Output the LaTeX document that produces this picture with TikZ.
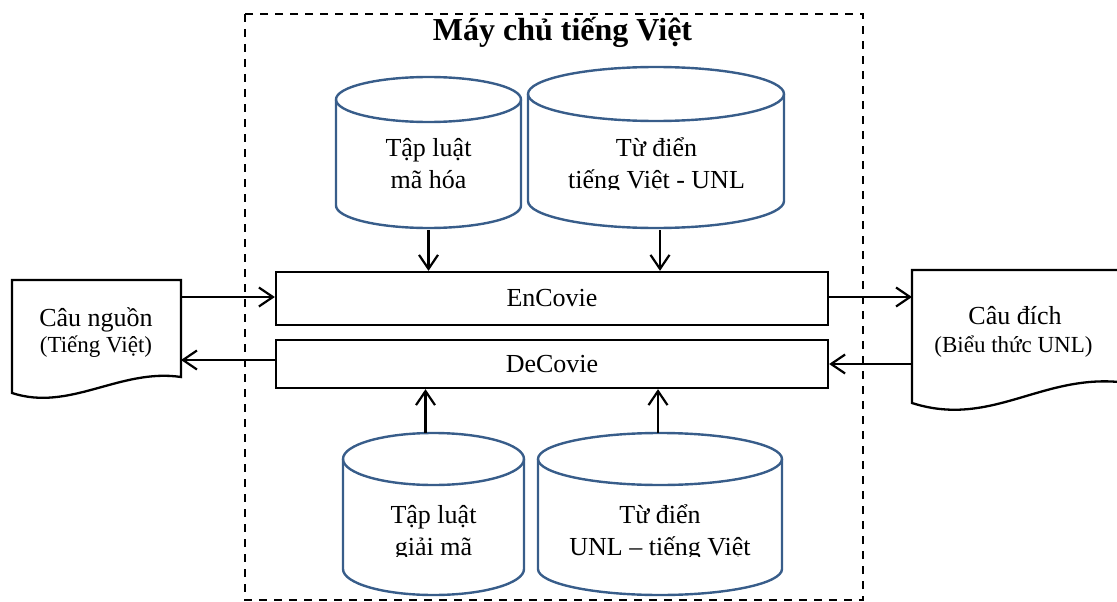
\documentclass[tikz,border=0pt]{standalone}
\usepackage{fontspec}
\setmainfont{Liberation Serif}
\usetikzlibrary{arrows.meta}
\definecolor{cylblue}{RGB}{56,93,138}

% cylinder outline: left, top, right, bottom, radius of the end ellipses
\newcommand\cylshape[5]{%
  \draw[cyl] ({(#1+#3)/2},{#2+#5}) ellipse [x radius={(#3-#1)/2}, y radius=#5];
  \draw[cyl] (#1,{#2+#5}) -- (#1,{#4-#5})
    arc[start angle=180, end angle=0, x radius={(#3-#1)/2}, y radius=#5]
    -- (#3,{#2+#5});}

\begin{document}
\begin{tikzpicture}[x=1pt, y=-1pt,
  cyl/.style={draw=cylblue, line width=2.4pt},
  cylnode/.style={inner sep=0, outer sep=0, draw=none},
  procbox/.style={draw, line width=2.3pt, inner sep=0, minimum width=552pt,
    font=\fontsize{26}{30}\selectfont},
  doc/.style={draw, line width=2.3pt, line join=miter},
  arr/.style={line width=2.2pt, -{Straight Barb[length=14pt, width=19pt, line width=2.2pt]}},
  cyltext/.style={anchor=base, align=center, inner sep=0, font=\fontsize{26}{31.5}\selectfont},
  docmain/.style={anchor=base, inner sep=0, font=\fontsize{26}{30}\selectfont},
  docsub/.style={anchor=base, inner sep=0, font=\fontsize{23}{27}\selectfont}]
\useasboundingbox (0,0) rectangle (1117,602);

% server frame and its title
\draw[line width=2.4pt, dash pattern=on 8pt off 7pt] (245,14) rectangle (863,600);
\node[anchor=base, inner sep=0, font=\fontsize{32}{36}\selectfont\bfseries] (title) at (562.5,41) {Máy chủ tiếng Việt};

% processing modules
\node[procbox, minimum height=53pt] (enc) at (552,298.5) {EnCovie};
\node[procbox, minimum height=48pt] (dec) at (552,364) {DeCovie};

% rule sets and dictionaries
\node[cylnode, minimum width=185pt, minimum height=151pt] (rulesEnc) at (428.5,152.5) {};
\node[cylnode, minimum width=256pt, minimum height=161pt] (dictEnc) at (656,147.5) {};
\node[cylnode, minimum width=181pt, minimum height=162pt] (rulesDec) at (433.5,514) {};
\node[cylnode, minimum width=244pt, minimum height=162pt] (dictDec) at (660,514) {};

\cylshape{336}{77}{521}{228}{22.5}
\cylshape{528}{67}{784}{228}{27}
\cylshape{343}{433}{524}{595}{26}
\cylshape{538}{433}{782}{595}{26}

% labels, cut off at the bottom of their text areas
\begin{scope}
  \clip (330,60) rectangle (790,189);
  \node[cyltext] (rulesEncT) at (428.5,188) {Tập luật\\mã hóa};
  \node[cyltext] (dictEncT) at (656.5,188) {Từ điển\\tiếng Việt - UNL};
\end{scope}
\begin{scope}
  \clip (330,430) rectangle (790,556);
  \node[cyltext] (rulesDecT) at (433.5,555) {Tập luật\\giải mã};
  \node[cyltext] (dictDecT) at (660,555) {Từ điển\\UNL – tiếng Việt};
\end{scope}

% source and target sentences
\node[cylnode, minimum width=169pt, minimum height=120pt] (src) at (96.5,340) {};
\draw[doc] (12,393) -- (12,280) -- (181,280) -- (181,377)
  .. controls (120,368) and (70,412) .. (12,393) -- cycle;
\node[docmain] (srcT) at (96,326) {Câu nguồn};
\node[docsub] (srcS) at (96,352) {(Tiếng Việt)};

\node[cylnode, minimum width=205pt, minimum height=140pt] (tgt) at (1014.5,340) {};
\draw[doc] (912,403) -- (912,270) -- (1119,270) -- (1119,382)
  .. controls (1040,375) and (990,428) .. (912,403) -- cycle;
\node[docmain] (tgtT) at (1015,324) {Câu đích};
\node[docsub] (tgtS) at (1013.5,352) {(Biểu thức UNL)};

% data flow
\draw[arr] (rulesEnc.south |- 0,230) -- (rulesEnc.south |- enc.north);
\draw[arr] ([xshift=4pt]dictEnc.south |- 0,230) -- ([xshift=4pt]dictEnc.south |- enc.north);
\draw[arr] ([xshift=-8pt]rulesDec.north) -- ([xshift=-8pt]rulesDec.north |- dec.south);
\draw[arr] ([xshift=-2pt]dictDec.north) -- ([xshift=-2pt]dictDec.north |- dec.south);

\draw[arr] (181,297) coordinate (srcOut) -- (srcOut -| enc.west);
\draw[arr] (dec.west |- 0,360) -- (181,360) coordinate (srcIn);
\draw[arr] (enc.east |- 0,297) -- (912,297) coordinate (tgtIn);
\draw[arr] (912,364) coordinate (tgtOut) -- (tgtOut -| dec.east);
\end{tikzpicture}
\end{document}
